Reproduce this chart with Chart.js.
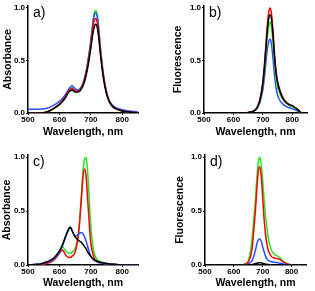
<!DOCTYPE html>
<html>
<head>
<meta charset="utf-8">
<script src="https://cdn.jsdelivr.net/npm/chart.js@4.4.0/dist/chart.umd.min.js"></script>
<style>
  body { margin: 0; background: #fff; width: 315px; height: 291px; position: relative; overflow: hidden; }
  canvas { position: absolute; }
</style>
</head>
<body>
<canvas id="graficoA" width="157" height="145" style="left:0;top:0;width:157px;height:145px"></canvas>
<canvas id="graficoB" width="158" height="145" style="left:157px;top:0;width:158px;height:145px"></canvas>
<canvas id="graficoC" width="157" height="146" style="left:0;top:145px;width:157px;height:146px"></canvas>
<canvas id="graficoD" width="158" height="146" style="left:157px;top:145px;width:158px;height:146px"></canvas>
<script>
// Datos
const ticksX = [500, 600, 700, 800]
const ticksY = [0, 0.5, 1.0]

// a) absorbancia
const wlA = [500, 520, 540, 560, 580, 600, 610, 620, 630, 640, 650, 660, 670, 680, 690, 700, 705, 710, 715, 720, 725, 730, 740, 750, 760, 770, 780, 800, 820, 850]
const absA_negro = [0, 0, 0, 0.01, 0.04, 0.08, 0.11, 0.15, 0.2, 0.22, 0.2, 0.2, 0.23, 0.3, 0.43, 0.62, 0.73, 0.81, 0.845, 0.82, 0.72, 0.57, 0.33, 0.18, 0.1, 0.06, 0.04, 0.02, 0.01, 0.0]
const absA_rojo = [0, 0, 0, 0.01, 0.04, 0.085, 0.12, 0.16, 0.21, 0.235, 0.21, 0.21, 0.24, 0.32, 0.46, 0.66, 0.78, 0.87, 0.9, 0.87, 0.76, 0.6, 0.35, 0.19, 0.1, 0.06, 0.04, 0.02, 0.01, 0.0]
const absA_azul = [0.035, 0.035, 0.037, 0.045, 0.07, 0.11, 0.14, 0.18, 0.23, 0.26, 0.23, 0.22, 0.25, 0.33, 0.48, 0.69, 0.82, 0.92, 0.955, 0.92, 0.8, 0.62, 0.36, 0.19, 0.11, 0.07, 0.05, 0.03, 0.02, 0.01]
const absA_verde = [0, 0, 0, 0.01, 0.04, 0.085, 0.12, 0.16, 0.21, 0.24, 0.21, 0.21, 0.24, 0.33, 0.48, 0.69, 0.83, 0.94, 0.975, 0.94, 0.82, 0.64, 0.37, 0.2, 0.1, 0.06, 0.04, 0.02, 0.01, 0.0]

// b) fluorescencia
const wlB = [640, 660, 670, 680, 690, 700, 705, 710, 715, 720, 725, 730, 735, 740, 745, 750, 760, 770, 780, 790, 800, 810, 820, 830]
const fluB_negro = [0, 0.01, 0.02, 0.05, 0.12, 0.28, 0.42, 0.6, 0.78, 0.9, 0.935, 0.88, 0.72, 0.52, 0.38, 0.29, 0.19, 0.13, 0.1, 0.08, 0.07, 0.05, 0.03, 0]
const fluB_rojo = [0, 0.01, 0.02, 0.05, 0.13, 0.3, 0.45, 0.64, 0.83, 0.96, 1.0, 0.93, 0.76, 0.55, 0.4, 0.3, 0.2, 0.14, 0.1, 0.08, 0.07, 0.05, 0.03, 0]
const fluB_azul = [0, 0.01, 0.02, 0.04, 0.1, 0.22, 0.33, 0.47, 0.6, 0.68, 0.705, 0.64, 0.5, 0.35, 0.24, 0.17, 0.11, 0.08, 0.06, 0.05, 0.04, 0.03, 0.015, 0]
const fluB_verde = [0, 0.01, 0.02, 0.045, 0.11, 0.26, 0.39, 0.56, 0.72, 0.83, 0.865, 0.8, 0.65, 0.47, 0.34, 0.25, 0.17, 0.12, 0.09, 0.07, 0.06, 0.045, 0.025, 0]

// c) absorbancia
const wlC = [500, 520, 540, 560, 580, 590, 600, 610, 620, 630, 635, 640, 650, 660, 665, 670, 675, 680, 685, 690, 695, 700, 710, 720, 730, 740, 760, 780, 800, 850]
const absC_negro = [0, 0.005, 0.01, 0.03, 0.06, 0.09, 0.13, 0.19, 0.27, 0.34, 0.35, 0.32, 0.26, 0.23, 0.22, 0.21, 0.19, 0.17, 0.15, 0.12, 0.1, 0.08, 0.05, 0.035, 0.025, 0.02, 0.01, 0.005, 0, 0]
const absC_rojo = [0, 0, 0.005, 0.015, 0.04, 0.07, 0.11, 0.14, 0.09, 0.07, 0.07, 0.08, 0.12, 0.27, 0.42, 0.62, 0.82, 0.89, 0.82, 0.6, 0.38, 0.2, 0.07, 0.03, 0.02, 0.015, 0.01, 0.005, 0, 0]
const absC_azul = [0, 0.005, 0.01, 0.025, 0.05, 0.08, 0.12, 0.18, 0.26, 0.33, 0.35, 0.32, 0.27, 0.28, 0.3, 0.3, 0.29, 0.26, 0.22, 0.17, 0.12, 0.08, 0.045, 0.03, 0.02, 0.015, 0.01, 0.005, 0, 0]
const absC_verde = [0, 0, 0.005, 0.02, 0.05, 0.08, 0.13, 0.17, 0.13, 0.11, 0.11, 0.12, 0.15, 0.3, 0.45, 0.65, 0.87, 0.98, 1.0, 0.85, 0.6, 0.35, 0.12, 0.05, 0.03, 0.02, 0.01, 0.005, 0, 0]

// d) fluorescencia
const wlD = [630, 640, 650, 660, 665, 670, 675, 680, 685, 690, 695, 700, 705, 710, 715, 720, 730, 740, 750, 760, 770, 780, 790, 800]
const fluD_negro = [0, 0, 0, 0.003, 0.006, 0.01, 0.013, 0.016, 0.02, 0.022, 0.02, 0.015, 0.011, 0.008, 0.006, 0.004, 0.002, 0.002, 0.002, 0.001, 0, 0, 0, 0]
const fluD_rojo = [0, 0.01, 0.03, 0.1, 0.2, 0.35, 0.52, 0.72, 0.88, 0.91, 0.82, 0.62, 0.42, 0.28, 0.19, 0.13, 0.08, 0.065, 0.06, 0.05, 0.03, 0.015, 0.005, 0]
const fluD_azul = [0, 0, 0.01, 0.03, 0.05, 0.09, 0.14, 0.2, 0.235, 0.24, 0.22, 0.17, 0.12, 0.08, 0.055, 0.04, 0.03, 0.025, 0.022, 0.018, 0.01, 0.005, 0, 0]
const fluD_verde = [0, 0.01, 0.04, 0.17, 0.3, 0.45, 0.62, 0.82, 0.96, 1.0, 0.93, 0.78, 0.6, 0.45, 0.33, 0.24, 0.14, 0.1, 0.085, 0.07, 0.04, 0.02, 0.01, 0]

const NEGRO = '#000000', ROJO = '#ff0000', AZUL = '#2a4dff', VERDE = '#22e622'
const fuente = "'Liberation Sans', Arial, sans-serif"

function serie(wl, vals, color) {
    return {
        data: wl.map((x, i) => ({ x: x, y: vals[i] })),
        borderColor: color,
        borderWidth: 1.5,
        pointRadius: 0,
        fill: false,
        cubicInterpolationMode: 'monotone'
    }
}

// etiqueta del panel: a), b) ...
function etiqueta(texto) {
    return {
        id: 'etiqueta',
        afterDraw(chart) {
            const c = chart.ctx
            c.save()
            c.fillStyle = '#000'
            c.font = '14px ' + fuente
            c.textBaseline = 'alphabetic'
            c.fillText(texto, chart.chartArea.left + 5, chart.chartArea.top + 11)
            c.restore()
        }
    }
}

// g: geometría del panel (anchos de ejes, paddings)
function grafico(id, texto, tituloY, datasets, g) {
    const ctx = document.getElementById(id).getContext('2d')
    return new Chart(ctx, {
        type: 'line',
        data: { datasets: datasets },
        plugins: [etiqueta(texto)],
        options: {
            responsive: false,
            animation: false,
            layout: { padding: { left: 0, top: g.top, right: g.right, bottom: 0 } },
            plugins: { legend: { display: false }, tooltip: { enabled: false } },
            scales: {
                x: {
                    type: 'linear',
                    min: 500,
                    max: 850,
                    afterBuildTicks: s => { s.ticks = ticksX.map(v => ({ value: v })) },
                    afterFit: s => { s.height = g.altoX },
                    border: { color: '#000', width: 1.5 },
                    grid: { drawOnChartArea: false, drawTicks: true, tickLength: 2, color: '#000' },
                    ticks: { color: '#000', padding: 0, maxRotation: 0, font: { family: fuente, size: 8, weight: 'bold' } },
                    title: { display: true, text: 'Wavelength, nm', color: '#000', padding: { top: 0, bottom: g.padTituloX }, font: { family: fuente, size: 10.5, weight: 'bold' } }
                },
                y: {
                    min: 0,
                    max: 1.02,
                    afterBuildTicks: s => { s.ticks = ticksY.map(v => ({ value: v })) },
                    afterFit: s => { s.width = g.anchoY },
                    border: { color: '#000', width: 1.5 },
                    grid: { drawOnChartArea: false, drawTicks: true, tickLength: 2, color: '#000' },
                    ticks: { color: '#000', padding: 1, callback: v => v.toFixed(1), font: { family: fuente, size: 8, weight: 'bold' } },
                    title: { display: true, text: tituloY, color: '#000', padding: { top: g.padTituloY, bottom: 0 }, font: { family: fuente, size: 10.5, weight: 'bold' } }
                }
            }
        }
    })
}

const graficoA = grafico('graficoA', 'a)', 'Absorbance', [
    serie(wlA, absA_negro, NEGRO),
    serie(wlA, absA_rojo, ROJO),
    serie(wlA, absA_azul, AZUL),
    serie(wlA, absA_verde, VERDE)
], { top: 3, right: 19, anchoY: 28, altoX: 32, padTituloX: 7, padTituloY: 2 })

const graficoB = grafico('graficoB', 'b)', 'Fluorescence', [
    serie(wlB, fluB_negro, NEGRO),
    serie(wlB, fluB_rojo, ROJO),
    serie(wlB, fluB_verde, VERDE),
    serie(wlB, fluB_azul, AZUL)
], { top: 3, right: 8, anchoY: 47, altoX: 32, padTituloX: 7, padTituloY: 15 })

const graficoC = grafico('graficoC', 'c)', 'Absorbance', [
    serie(wlC, absC_negro, NEGRO),
    serie(wlC, absC_azul, AZUL),
    serie(wlC, absC_rojo, ROJO),
    serie(wlC, absC_verde, VERDE)
], { top: 10, right: 19, anchoY: 28, altoX: 26, padTituloX: 2, padTituloY: 1 })

const graficoD = grafico('graficoD', 'd)', 'Fluorescence', [
    serie(wlD, fluD_negro, NEGRO),
    serie(wlD, fluD_azul, AZUL),
    serie(wlD, fluD_rojo, ROJO),
    serie(wlD, fluD_verde, VERDE)
], { top: 10, right: 9, anchoY: 48, altoX: 26, padTituloX: 2, padTituloY: 17 })
</script>
</body>
</html>
